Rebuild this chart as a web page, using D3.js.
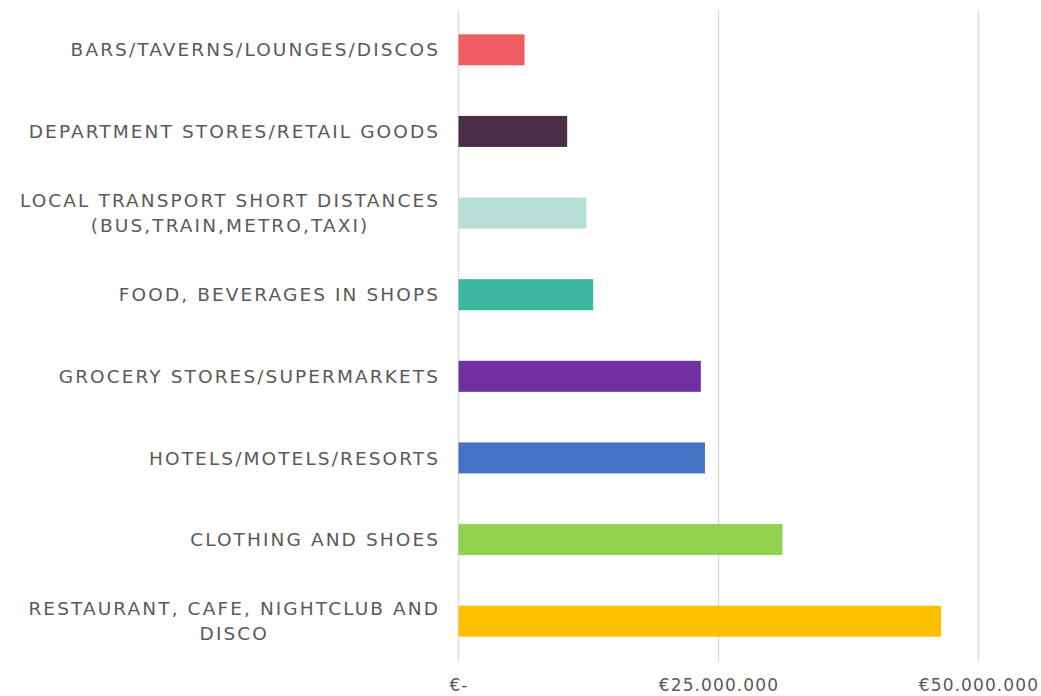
<!DOCTYPE html>
<html><head><meta charset="utf-8">
<script src="https://cdn.jsdelivr.net/npm/d3@7"></script>
<style>body{margin:0;background:#fff}svg{display:block}</style>
</head><body><svg id="c" width="1041" height="696"></svg>
<script>
const categories = [
  ["BARS/TAVERNS/LOUNGES/DISCOS"],
  ["DEPARTMENT STORES/RETAIL GOODS"],
  ["LOCAL TRANSPORT SHORT DISTANCES", "(BUS,TRAIN,METRO,TAXI)"],
  ["FOOD, BEVERAGES IN SHOPS"],
  ["GROCERY STORES/SUPERMARKETS"],
  ["HOTELS/MOTELS/RESORTS"],
  ["CLOTHING AND SHOES"],
  ["RESTAURANT, CAFE, NIGHTCLUB AND", "DISCO"]
];
const values = [6350000, 10450000, 12300000, 12950000, 23300000, 23700000, 31150000, 46400000];
const colors = ["#EE5D62", "#4A2D47", "#B8DFD7", "#3DB7A1", "#7030A0", "#4472C4", "#92D050", "#FFC000"];
const tickValues = [0, 25000000, 50000000];
const tickLabels = ["€-", "€25.000.000", "€50.000.000"];

const svg = d3.select("#c");
const x = d3.scaleLinear().domain([0, 50000000]).range([458.5, 978.5]);
const y = d3.scaleBand().domain(d3.range(categories.length)).range([9, 662]).paddingInner(0.62).paddingOuter(0.31);

// gridlines
svg.append("g").selectAll("line").data(tickValues).join("line")
  .attr("x1", d => x(d)).attr("x2", d => x(d))
  .attr("y1", 10).attr("y2", 662)
  .attr("stroke", "#d9d9d9").attr("stroke-width", 1.3);

// bars
svg.append("g").selectAll("rect").data(values).join("rect")
  .attr("x", x(0)).attr("y", (d, i) => y(i))
  .attr("width", d => x(d) - x(0)).attr("height", y.bandwidth())
  .attr("fill", (d, i) => colors[i]);

// category labels
const font = "'DejaVu Sans', sans-serif";
const ls = 2.1;
const right = 438 + ls;
const lab = svg.append("g").attr("font-family", font).attr("font-size", 18.5)
  .attr("letter-spacing", ls).attr("fill", "#5a5a5a");
categories.forEach((lines, i) => {
  const cy = y(i) + y.bandwidth() / 2;
  const t = lab.append("text").attr("y", cy - (lines.length - 1) * 12.5);
  t.attr("x", right).attr("text-anchor", "end").attr("dy", "0.36em").text(lines[0]);
  if (lines.length > 1) {
    const w = t.node().getComputedTextLength();
    const cx = right - w / 2;
    t.attr("text-anchor", "middle").attr("x", cx).text(null);
    lines.forEach((l, k) => {
      t.append("tspan").attr("x", cx).attr("dy", k === 0 ? "0.36em" : 25).text(l);
    });
  }
});

// x tick labels
svg.append("g").attr("font-family", font).attr("font-size", 17).attr("letter-spacing", 1.1)
  .attr("fill", "#5a5a5a")
  .selectAll("text").data(tickValues).join("text")
  .attr("x", d => x(d) + 0.5).attr("y", 690.5).attr("text-anchor", "middle")
  .text((d, i) => tickLabels[i]);
</script></body></html>
